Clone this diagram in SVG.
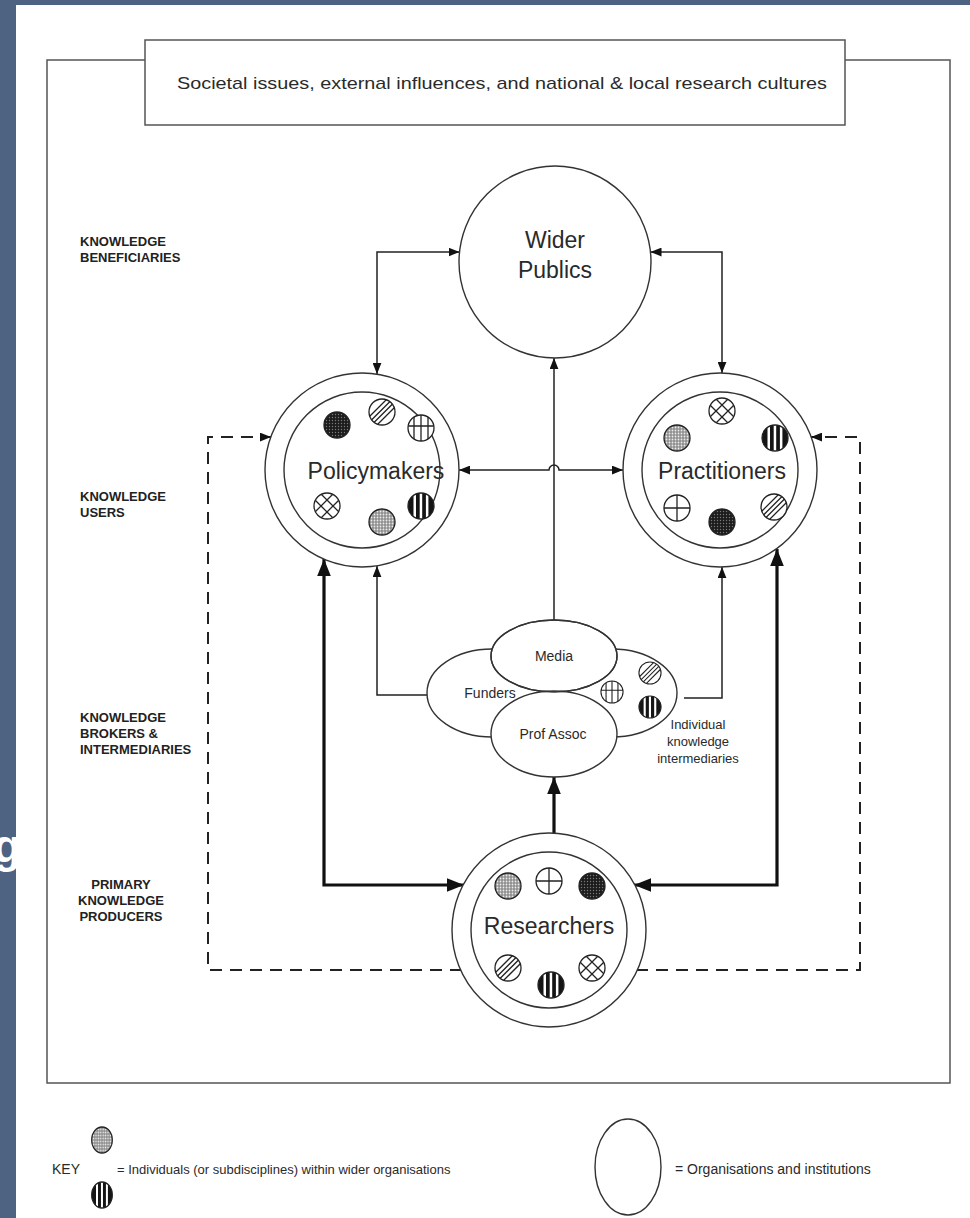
<svg xmlns="http://www.w3.org/2000/svg" xmlns:xlink="http://www.w3.org/1999/xlink" width="970" height="1218" viewBox="0 0 970 1218">
<style>
text{font-family:"Liberation Sans",Arial,sans-serif;fill:#2a2a2a}
.lab{font-size:13px;font-weight:bold;fill:#222}
.big{font-size:23px;text-anchor:middle}
.mid{font-size:14px;text-anchor:middle}
.key{font-size:13px}
.org{fill:#fff;stroke:#333;stroke-width:1.4}
.thin{fill:none;stroke:#222;stroke-width:1.5}
.thick{fill:none;stroke:#111;stroke-width:3.2}
.dash{fill:none;stroke:#222;stroke-width:2;stroke-dasharray:12 8}
.sym{stroke:#222;stroke-width:1.3}
</style>
<defs>
<marker id="ah" viewBox="0 0 10 8" refX="10" refY="4" markerWidth="11" markerHeight="9" markerUnits="userSpaceOnUse" orient="auto-start-reverse"><path d="M0,0 L10,4 L0,8 z" fill="#111"/></marker>
<marker id="ahT" viewBox="0 0 10 8" refX="10" refY="4" markerWidth="17" markerHeight="14" markerUnits="userSpaceOnUse" orient="auto-start-reverse"><path d="M0,0 L10,4 L0,8 z" fill="#111"/></marker>
<pattern id="pd" width="3" height="3" patternUnits="userSpaceOnUse"><rect width="3" height="3" fill="#1c1c1c"/><circle cx="1.5" cy="1.5" r="0.7" fill="#7a7a7a"/></pattern>
<pattern id="pl" width="3" height="3" patternUnits="userSpaceOnUse"><rect width="3" height="3" fill="#8f8f8f"/><circle cx="1.5" cy="1.5" r="0.9" fill="#ececec"/></pattern>
<clipPath id="cc"><circle r="13"/></clipPath>
<g id="dark"><circle r="13" fill="url(#pd)" class="sym"/></g>
<g id="light"><circle r="13" fill="url(#pl)" class="sym"/></g>
<g id="diag"><circle r="13" fill="#fff"/><path clip-path="url(#cc)" class="sym" fill="none" d="M-13,5 L5,-13 M-13,10.5 L10.5,-13 M-10.5,13 L13,-10.5 M-5,13 L13,-5"/><circle r="13" fill="none" class="sym"/></g>
<g id="vstr"><circle r="13" fill="#151515"/><g clip-path="url(#cc)" fill="#fff"><rect x="-7.5" y="-14" width="2.5" height="28"/><rect x="-1.3" y="-14" width="2.5" height="28"/><rect x="4.9" y="-14" width="2.5" height="28"/></g><circle r="13" fill="none" class="sym"/></g>
<g id="plus"><circle r="13" fill="#fff" class="sym"/><path class="sym" d="M-13,0 H13 M0,-13 V13"/></g>
<g id="grid"><circle r="13" fill="#fff" class="sym"/><path clip-path="url(#cc)" class="sym" d="M-13,-2 H13 M-7,-13 V13 M0,-13 V13 M7,-13 V13"/></g>
<g id="cross"><circle r="13" fill="#fff"/><path clip-path="url(#cc)" class="sym" fill="none" d="M-13,7 L7,-13 M-7,13 L13,-7 M-13,-7 L7,13 M-7,-13 L13,7"/><circle r="13" fill="none" class="sym"/></g>
</defs>

<rect width="970" height="1218" fill="#4e6281"/>
<text x="-7" y="862" style="font-size:46px;font-weight:bold;fill:#fff">g</text>
<rect x="16" y="5" width="954" height="1213" fill="#fff"/>

<g id="frame">
<rect x="47" y="60" width="903" height="1023" fill="none" stroke="#555" stroke-width="1.5"/>
<rect x="145" y="40" width="700" height="85" fill="#fff" stroke="#555" stroke-width="1.5"/>
<text x="502" y="89" style="font-size:17px;text-anchor:middle" textLength="650" lengthAdjust="spacingAndGlyphs">Societal issues, external influences, and national &amp; local research cultures</text>
</g>

<g id="labels">
<text class="lab" x="80" y="246">KNOWLEDGE</text>
<text class="lab" x="80" y="262">BENEFICIARIES</text>
<text class="lab" x="80" y="501">KNOWLEDGE</text>
<text class="lab" x="80" y="517">USERS</text>
<text class="lab" x="80" y="722">KNOWLEDGE</text>
<text class="lab" x="80" y="738">BROKERS &amp;</text>
<text class="lab" x="80" y="754">INTERMEDIARIES</text>
<text class="lab" x="121" y="889" text-anchor="middle">PRIMARY</text>
<text class="lab" x="121" y="905" text-anchor="middle">KNOWLEDGE</text>
<text class="lab" x="121" y="921" text-anchor="middle">PRODUCERS</text>
</g>

<g id="connectors">
<path class="thin" d="M377,374 V252 H459.5" marker-start="url(#ah)" marker-end="url(#ah)"/>
<path class="thin" d="M650.5,252 H722 V373" marker-start="url(#ah)" marker-end="url(#ah)"/>
<path class="thin" d="M554,620 V358" marker-end="url(#ah)"/>
<path class="thin" d="M459,470 H549 a5,5 0 0 1 10,0 H623" marker-start="url(#ah)" marker-end="url(#ah)"/>
<path class="thin" d="M427,695 H377 V566" marker-end="url(#ah)"/>
<path class="thin" d="M684,698 H722 V567" marker-end="url(#ah)"/>
<path class="thick" d="M554,833 V777" marker-end="url(#ahT)"/>
<path class="thick" d="M324,559 V885 H464" marker-start="url(#ahT)" marker-end="url(#ahT)"/>
<path class="thick" d="M777,549 V885 H634" marker-start="url(#ahT)" marker-end="url(#ahT)"/>
<path class="dash" d="M462,970 H208 V437 H271" marker-end="url(#ah)"/>
<path class="dash" d="M636,970 H860 V437 H811" marker-end="url(#ah)"/>
</g>

<g id="wider-publics">
<circle class="org" cx="555" cy="262" r="96"/>
<text class="big" x="555" y="248">Wider</text>
<text class="big" x="555" y="278">Publics</text>
</g>

<g id="policymakers">
<circle class="org" cx="362" cy="470" r="97"/>
<circle class="org" cx="362" cy="470" r="78"/>
<use href="#dark" x="337" y="425"/>
<use href="#diag" x="382" y="412"/>
<use href="#grid" x="421" y="428"/>
<use href="#cross" x="327" y="506"/>
<use href="#light" x="382" y="522"/>
<use href="#vstr" x="421" y="506"/>
<text class="big" x="376" y="479">Policymakers</text>
</g>

<g id="practitioners">
<circle class="org" cx="720" cy="470" r="97"/>
<circle class="org" cx="720" cy="470" r="78"/>
<use href="#cross" x="722" y="411"/>
<use href="#light" x="677" y="438"/>
<use href="#vstr" x="775" y="438"/>
<use href="#plus" x="677" y="508"/>
<use href="#dark" x="722" y="522"/>
<use href="#diag" x="774" y="507"/>
<text class="big" x="722" y="479">Practitioners</text>
</g>

<g id="intermediaries">
<ellipse class="org" cx="492" cy="693" rx="65" ry="44"/>
<ellipse class="org" cx="612" cy="693" rx="65" ry="44"/>
<use href="#grid" transform="translate(612,692) scale(0.85)"/>
<use href="#diag" transform="translate(650,673) scale(0.85)"/>
<use href="#vstr" transform="translate(650,707) scale(0.85)"/>
<ellipse class="org" cx="554" cy="656" rx="63" ry="36"/>
<ellipse class="org" cx="554" cy="734" rx="63" ry="43"/>
<ellipse cx="554" cy="656" rx="63" ry="36" fill="none" stroke="#333" stroke-width="1.4"/>
<text class="mid" x="554" y="661">Media</text>
<text class="mid" x="490" y="698">Funders</text>
<text class="mid" x="553" y="739">Prof Assoc</text>
<text class="mid" x="698" y="729" style="font-size:13px">Individual</text>
<text class="mid" x="698" y="746" style="font-size:13px">knowledge</text>
<text class="mid" x="698" y="763" style="font-size:13px">intermediaries</text>
</g>

<g id="researchers">
<circle class="org" cx="549" cy="930" r="97"/>
<circle class="org" cx="549" cy="930" r="78"/>
<use href="#light" x="508" y="886"/>
<use href="#plus" x="549" y="881"/>
<use href="#dark" x="592" y="886"/>
<use href="#diag" x="508" y="968"/>
<use href="#vstr" x="551" y="985"/>
<use href="#cross" x="592" y="968"/>
<text class="big" x="549" y="934">Researchers</text>
</g>

<g id="key">
<text x="52" y="1174" style="font-size:14px">KEY</text>
<use href="#light" transform="translate(102,1140) scale(0.8,1)"/>
<use href="#vstr" transform="translate(102,1195) scale(0.8,1)"/>
<text class="key" x="117" y="1174">= Individuals (or subdisciplines) within wider organisations</text>
<ellipse class="org" cx="628" cy="1167" rx="33" ry="48"/>
<text class="key" x="675" y="1174" style="font-size:14px">= Organisations and institutions</text>
</g>
</svg>
